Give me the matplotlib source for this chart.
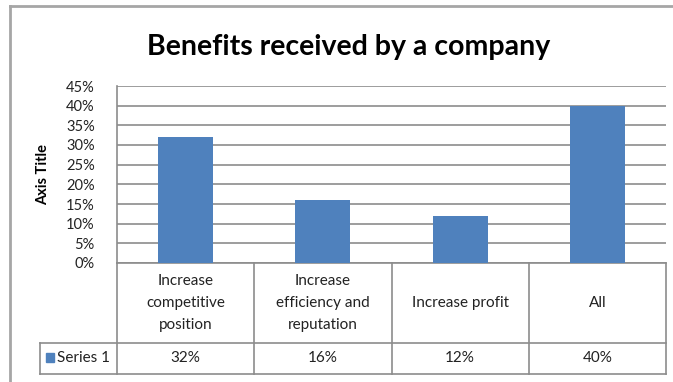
import matplotlib
matplotlib.use("Agg")
import matplotlib.pyplot as plt
from matplotlib.lines import Line2D
from matplotlib.patches import Rectangle

categories = ["Increase\ncompetitive\nposition",
              "Increase\nefficiency and\nreputation",
              "Increase profit",
              "All"]
values = [32, 16, 12, 40]
value_labels = ["32%", "16%", "12%", "40%"]
yticks = [0, 5, 10, 15, 20, 25, 30, 35, 40, 45]
series_name = "Series 1"
title = "Benefits received by a company"

W, H = 673, 382
BAR = "#4F81BD"
GRID = "#8C8C8C"
FONT = "Lato"
TXT = "#222222"

fig = plt.figure(figsize=(W / 100, H / 100), dpi=100)
fig.patch.set_facecolor("white")


def fx(px):
    return px / W


def fy(py):
    return 1 - py / H


# plot area in pixel coordinates
left, right, top, bottom = 117, 666, 86, 263
ax = fig.add_axes([fx(left), fy(bottom), fx(right - left), (bottom - top) / H])

x = range(len(values))
ax.bar(x, values, width=0.4, color=BAR, zorder=3)
ax.set_xlim(-0.5, len(values) - 0.5)
ax.set_ylim(0, 45)
ax.set_yticks(yticks)
ax.set_yticklabels([f"{t}%" for t in yticks], fontsize=10.5, family=FONT, color=TXT)
ax.set_xticks([])
ax.tick_params(axis="y", length=0, pad=16)
ax.yaxis.grid(True, color=GRID, linewidth=1.2, zorder=0)
for s in ["top", "right"]:
    ax.spines[s].set_visible(False)
for s in ["left", "bottom"]:
    ax.spines[s].set_color(GRID)
    ax.spines[s].set_linewidth(1.2)

ax.set_ylabel("Axis Title", fontsize=10.5, family=FONT, fontweight="bold", color="black")
ax.yaxis.set_label_coords((50 - left) / (right - left), 0.5)

fig.text(fx(348.5), fy(55), title, ha="center", va="baseline",
         fontsize=20.5, family=FONT, fontweight="bold", color="black")

# data table below the axis
trans = ax.get_xaxis_transform()
ph = bottom - top


def ay(py):
    return (bottom - py) / ph


row1_bottom = ay(343)
row2_bottom = ay(374)
key_left = -0.5 + (40 - left) / ((right - left) / len(values))

lkw = dict(color=GRID, linewidth=1.2, transform=trans, clip_on=False)
for b in [-0.5, 0.5, 1.5, 2.5, 3.5]:
    ax.add_line(Line2D([b, b], [0, row2_bottom], **lkw))
ax.add_line(Line2D([key_left, 3.5], [row1_bottom, row1_bottom], **lkw))
ax.add_line(Line2D([key_left, 3.5], [row2_bottom, row2_bottom], **lkw))
ax.add_line(Line2D([key_left, key_left], [row1_bottom, row2_bottom], **lkw))

for i, (c, v) in enumerate(zip(categories, value_labels)):
    ax.text(i, row1_bottom / 2, c, transform=trans, ha="center", va="center",
            fontsize=11, family=FONT, linespacing=1.72, color=TXT)
    ax.text(i, (row1_bottom + row2_bottom) / 2, v, transform=trans, ha="center",
            va="center", fontsize=11, family=FONT, color=TXT)

# legend key in the table row header
fig.patches.append(Rectangle((fx(46), fy(362)), fx(8), 9 / H, color=BAR,
                             transform=fig.transFigure))
fig.text(fx(57), fy(358.5), series_name, ha="left", va="center",
         fontsize=11, family=FONT, color=TXT)

# chart area border
fig.add_artist(Line2D([fx(10), fx(10)], [fy(6), 0], color="#A6A6A6", linewidth=2,
                      transform=fig.transFigure))
fig.add_artist(Line2D([fx(10), 1], [fy(6), fy(6)], color="#A6A6A6", linewidth=2,
                      transform=fig.transFigure))

fig.savefig("out.png", dpi=100)
